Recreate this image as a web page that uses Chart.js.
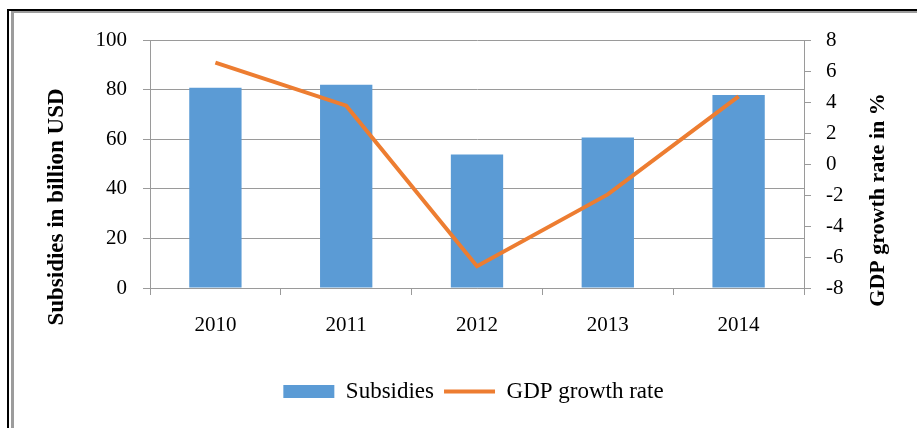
<!DOCTYPE html>
<html>
<head>
<meta charset="utf-8">
<script src="https://cdn.jsdelivr.net/npm/chart.js@4"></script>
<style>
  html, body { margin: 0; padding: 0; background: #fff; }
  body { width: 917px; height: 428px; position: relative; overflow: hidden; }
  .frame-outer {
    position: absolute; left: 7px; top: 9px; width: 1000px; height: 500px;
    border-left: 2px solid #000; border-top: 2px solid #000;
  }
  .frame-inner {
    position: absolute; left: 11px; top: 11px; width: 1000px; height: 500px;
    border-left: 3px solid #9c9c9c; border-top: 2px solid #9c9c9c;
  }
  #chart { position: absolute; left: 0; top: 0; }
</style>
</head>
<body>
<div class="frame-outer"></div>
<div class="frame-inner"></div>
<canvas id="chart" width="917" height="428"></canvas>
<script>
(() => {
  'use strict'

  const years = ['2010', '2011', '2012', '2013', '2014'];
  const subsidies = [80.7, 82.0, 53.8, 60.7, 77.8];   // billion USD
  const gdpGrowth = [6.54, 3.76, -6.59, -1.96, 4.36]; // %

  const leftTitle = 'Subsidies in billion USD';
  const rightTitle = 'GDP growth rate in %';

  const BLUE = '#5b9bd5';
  const ORANGE = '#ed7d31';
  const AXIS = '#9a9a9a';
  const FAMILY = "'Liberation Serif', 'Times New Roman', serif";

  Chart.defaults.font.family = FAMILY;
  Chart.defaults.color = '#000';

  const tickFont = { size: 21 };

  // both axis titles read bottom-to-top and sit a bit below the plot centre,
  // so they are painted by hand instead of through scale.title
  const axisTitles = {
    id: 'axisTitles',
    afterDraw(chart) {
      const ctx = chart.ctx;
      const put = (text, size, x, y) => {
        ctx.save();
        ctx.font = `bold ${size}px ${FAMILY}`;
        ctx.fillStyle = '#000';
        ctx.textAlign = 'center';
        ctx.textBaseline = 'middle';
        ctx.translate(x, y);
        ctx.rotate(-Math.PI / 2);
        ctx.fillText(text, 0, 0);
        ctx.restore();
      };
      put(leftTitle, 23, 57, 207);
      put(rightTitle, 22, 878, 200);
    }
  };

  new Chart(document.getElementById('chart'), {
    data: {
      labels: years,
      datasets: [{
        type: 'bar',
        label: 'Subsidies',
        data: subsidies,
        backgroundColor: BLUE,
        categoryPercentage: 1,
        barPercentage: 0.4,
        yAxisID: 'y',
        order: 1
      }, {
        type: 'line',
        label: 'GDP growth rate',
        data: gdpGrowth,
        borderColor: ORANGE,
        backgroundColor: ORANGE,
        borderWidth: 4,
        pointRadius: 0,
        tension: 0,
        yAxisID: 'y1',
        order: 0
      }]
    },
    options: {
      responsive: false,
      animation: false,
      layout: { padding: { left: 30, right: 0, top: 40, bottom: 15 } },
      scales: {
        x: {
          offset: true,
          grid: { offset: true, drawOnChartArea: false, color: AXIS, tickLength: 7 },
          border: { color: AXIS },
          ticks: { font: tickFont, padding: 18 },
          afterFit: s => { s.height = 82; }
        },
        y: {
          position: 'left',
          min: 0,
          max: 100,
          ticks: { stepSize: 20, font: tickFont, padding: 16 },
          grid: { color: AXIS, tickLength: 7 },
          border: { color: AXIS },
          afterFit: s => { s.width = 120; }
        },
        y1: {
          position: 'right',
          min: -8,
          max: 8,
          ticks: { stepSize: 2, font: tickFont, padding: 15 },
          grid: { drawOnChartArea: false, color: AXIS, tickLength: 7 },
          border: { color: AXIS },
          afterFit: s => { s.width = 113; }
        }
      },
      plugins: {
        tooltip: { enabled: false },
        legend: {
          position: 'bottom',
          labels: {
            font: { size: 23 },
            color: '#000',
            usePointStyle: true,
            pointStyleWidth: 51,
            boxHeight: 13,
            padding: 10,
            generateLabels: chart => chart.data.datasets.map((ds, i) => ({
              text: ds.label,
              fillStyle: ds.backgroundColor,
              strokeStyle: ds.type === 'line' ? ds.borderColor : ds.backgroundColor,
              lineWidth: ds.type === 'line' ? 4 : 0,
              pointStyle: ds.type === 'line' ? 'line' : 'rect',
              datasetIndex: i,
              hidden: false
            }))
          }
        }
      }
    },
    plugins: [axisTitles]
  });
})()
</script>
</body>
</html>
